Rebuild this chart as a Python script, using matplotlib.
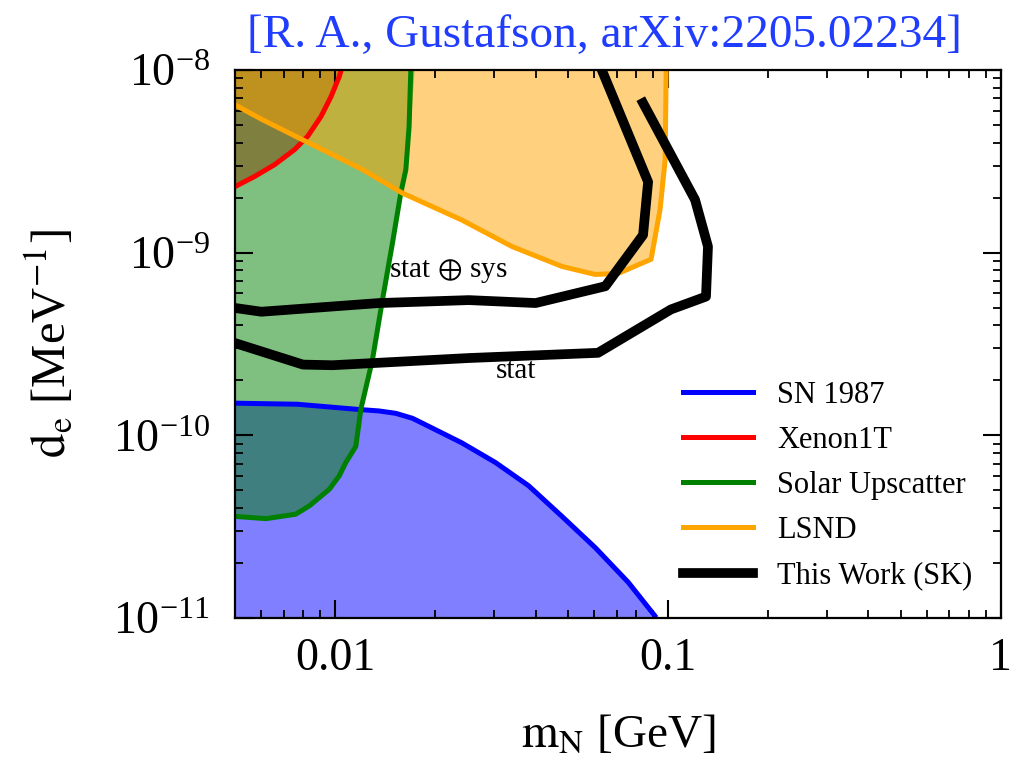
import matplotlib
matplotlib.use("Agg")
import matplotlib.pyplot as plt

plt.rcParams['font.family'] = ['Liberation Serif', 'DejaVu Serif']
plt.rcParams['mathtext.fontset'] = 'stix'

# SN 1987 (blue), upper edge of the excluded region
sn_m = [0.005, 0.0077, 0.01153, 0.01355, 0.0152, 0.01706, 0.0191, 0.0240, 0.0303, 0.0381, 0.0480, 0.0604, 0.0759, 0.0912]
sn_d = [1.50e-10, 1.48e-10, 1.39e-10, 1.36e-10, 1.32e-10, 1.24e-10, 1.12e-10, 9.1e-11, 7.1e-11, 5.3e-11, 3.6e-11, 2.43e-11, 1.57e-11, 1.03e-11]

# Xenon1T (red)
xen_m = [0.005, 0.00572, 0.00657, 0.00754, 0.00826, 0.00906, 0.00971, 0.01028, 0.01042]
xen_d = [2.30e-9, 2.61e-9, 3.03e-9, 3.66e-9, 4.33e-9, 5.56e-9, 7.14e-9, 9.19e-9, 1.0e-8]

# Solar upscatter (green), from top down to the left edge
sol_m = [0.01687, 0.01667, 0.0163, 0.01574, 0.01486, 0.01387, 0.01294, 0.01194, 0.01153,
         0.01076, 0.01028, 0.0096, 0.00836, 0.0076, 0.0062, 0.005]
sol_d = [1.0e-8, 4.9e-9, 2.85e-9, 2.12e-9, 1.13e-9, 5.53e-10, 2.6e-10, 1.39e-10, 8.7e-11,
         7.1e-11, 6.0e-11, 5.07e-11, 4.11e-11, 3.7e-11, 3.5e-11, 3.6e-11]

# LSND (orange), lower edge from left to the top
lsnd_m = [0.005, 0.00606, 0.00817, 0.01208, 0.01591, 0.0240, 0.0340, 0.0480, 0.0604, 0.0708,
          0.0889, 0.0946, 0.0980, 0.0987]
lsnd_d = [6.44e-9, 5.33e-9, 4.06e-9, 2.85e-9, 2.12e-9, 1.51e-9, 1.08e-9, 8.41e-10, 7.6e-10, 7.7e-10,
          9.2e-10, 1.72e-9, 3.22e-9, 1.0e-8]

# This work (SK)
sys_m = [0.005, 0.0060, 0.01355, 0.0252, 0.0400, 0.0648, 0.0841, 0.0871, 0.0615]
sys_d = [4.98e-10, 4.75e-10, 5.3e-10, 5.5e-10, 5.3e-10, 6.55e-10, 1.25e-9, 2.44e-9, 1.13e-8]
stat_m = [0.005, 0.0080, 0.0098, 0.0252, 0.0616, 0.102, 0.130, 0.1318, 0.1205, 0.0841]
stat_d = [3.2e-10, 2.44e-10, 2.42e-10, 2.65e-10, 2.83e-10, 4.89e-10, 5.75e-10, 1.08e-9, 1.95e-9, 6.6e-9]

xticks = [0.01, 0.1, 1]
xtick_labels = ['0.01', '0.1', '1']
legend_labels = ['SN 1987', 'Xenon1T', 'Solar Upscatter', 'LSND', 'This Work (SK)']

fig = plt.figure(figsize=(10.1, 7.6), dpi=100)
ax = fig.add_axes([0.2327, 0.1868, 0.7583, 0.7211])
ax.set_xscale('log')
ax.set_yscale('log')

lo, hi, left = 1e-12, 2e-8, 0.004

# fills: blue, red, green, orange
ax.fill_between(sn_m, sn_d, lo, color='blue', alpha=0.5, lw=0)
ax.fill([left] + xen_m + [xen_m[-1], left], [xen_d[0]] + xen_d + [hi, hi],
        color='red', alpha=0.5, lw=0)
ax.fill([0.0178, 0.0168] + sol_m[1:] + [left, left],
        [hi, 4.5e-9] + sol_d[1:] + [sol_d[-1], hi], color='green', alpha=0.5, lw=0)
ax.fill([left] + lsnd_m + [lsnd_m[-1], left], [6.9e-9] + lsnd_d + [hi, hi],
        color='orange', alpha=0.5, lw=0)

ax.plot(sn_m, sn_d, color='blue', lw=3.6, label=legend_labels[0])
ax.plot(xen_m, xen_d, color='red', lw=3.6, label=legend_labels[1])
ax.plot(sol_m, sol_d, color='green', lw=3.6, label=legend_labels[2])
ax.plot(lsnd_m, lsnd_d, color='orange', lw=3.6, label=legend_labels[3])
ax.plot(stat_m, stat_d, color='black', lw=7, label=legend_labels[4])
ax.plot(sys_m, sys_d, color='black', lw=7)

ax.text(0.0219, 7.9e-10, r'stat$\,\oplus\,$sys', fontsize=21, ha='center', va='center')
ax.text(0.0348, 2.24e-10, 'stat', fontsize=21, ha='center', va='center')

ax.set_xlim(0.005, 1)
ax.set_ylim(1e-11, 1e-8)
ax.set_xticks(xticks, xtick_labels)

ax.tick_params(which='both', direction='in', top=True, right=True)
ax.tick_params(which='major', length=13, width=1.5, labelsize=33)
ax.tick_params(which='minor', length=6, width=1.3)
ax.tick_params(axis='x', pad=14)
ax.tick_params(axis='y', pad=18)
for s in ax.spines.values():
    s.set_linewidth(1.6)

ax.set_xlabel(r'$\mathrm{m_N}$ [GeV]', fontsize=34, labelpad=24)
ax.set_ylabel(r'$\mathrm{d_e}$ [MeV$^{-1}$]', fontsize=35, labelpad=27)

ax.legend(loc='lower right', frameon=False, fontsize=22, handlelength=2.3,
          labelspacing=0.53, handletextpad=0.8, borderaxespad=0.4,
          bbox_to_anchor=(0.995, 0.006))

fig.text(0.598, 0.953, '[R. A., Gustafson, arXiv:2205.02234]', color='#1f3cff',
         fontsize=34, ha='center', va='center')

fig.savefig('out.png', dpi=100)
